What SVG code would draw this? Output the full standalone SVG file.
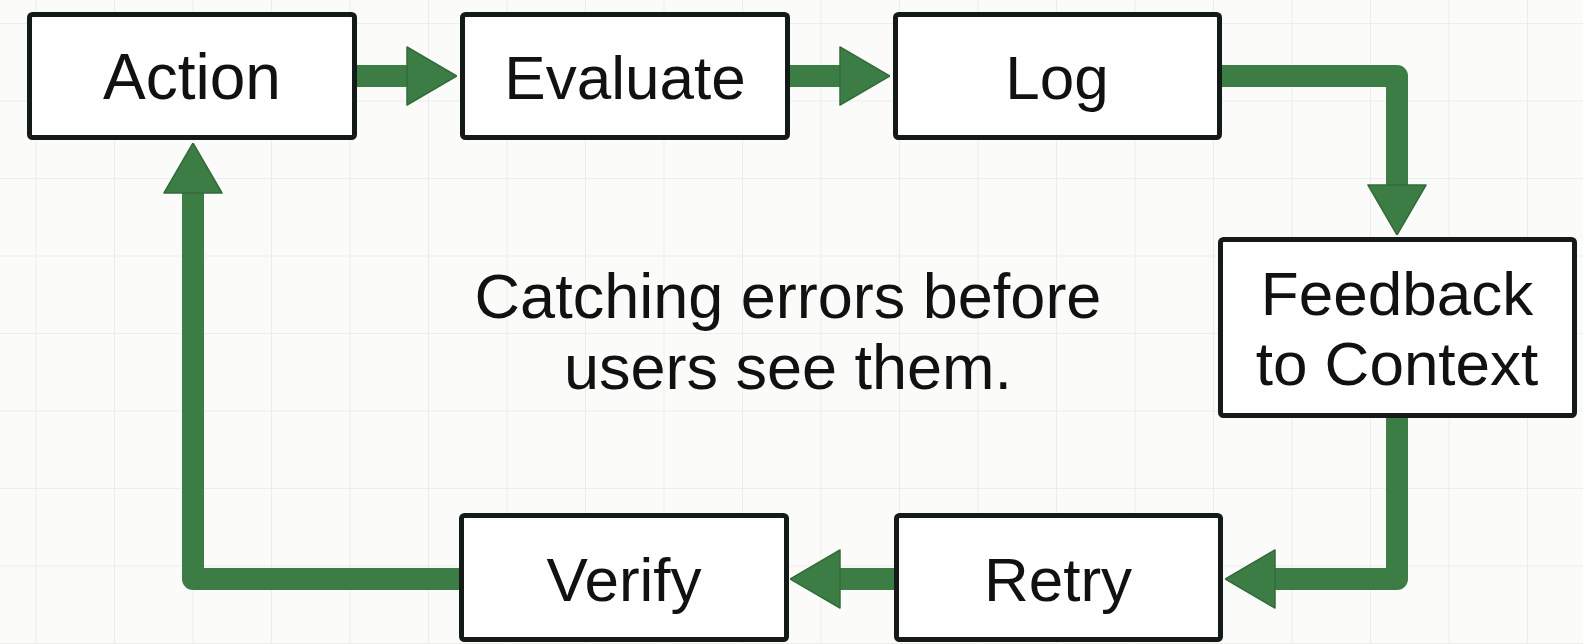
<svg xmlns="http://www.w3.org/2000/svg" width="1583" height="644" viewBox="0 0 1583 644">
  <defs>
    <pattern id="grid" patternUnits="userSpaceOnUse" x="35.5" y="23" width="78.5" height="77.5">
      <path d="M0,0 H78.5 M0,0 V77.5" fill="none" stroke="#e8eae6" stroke-width="1.6"/>
    </pattern>
    <marker id="head" markerUnits="userSpaceOnUse" viewBox="0 0 52 60" refX="2" refY="30" markerWidth="52" markerHeight="60" orient="auto">
      <path d="M2,1 L52,30 L2,59 Z" fill="#3c7d45" stroke="#336b3b" stroke-width="1.5" stroke-linejoin="round"/>
    </marker>
    <style>
      .box { fill: #fdfefd; stroke: #141a17; stroke-width: 5; }
      .lbl { font-family: "Liberation Sans", Arial, sans-serif; font-size: 62px; fill: #111; text-anchor: middle; }
      .cap { font-family: "Liberation Sans", Arial, sans-serif; font-size: 63px; fill: #111; text-anchor: middle; }
      .conn { fill: none; stroke: #3c7d45; stroke-width: 22; stroke-linejoin: round; marker-end: url(#head); }
    </style>
  </defs>
  <rect width="1583" height="644" fill="#fbfcfa"/>
  <rect width="1583" height="644" fill="url(#grid)"/>

  <g id="connectors">
    <path class="conn" d="M355,76 H407"/>
    <path class="conn" d="M788,76 H840"/>
    <path class="conn" d="M1220,76 H1397 V185"/>
    <path class="conn" d="M1397,416 V579 H1275"/>
    <path class="conn" d="M896,579 H840"/>
    <path class="conn" d="M461,579 H193 V193"/>
  </g>

  <g id="action">
    <rect class="box" x="29.5" y="14.5" width="325" height="123" rx="3"/>
    <text class="lbl" x="192" y="99" style="font-size:64px">Action</text>
  </g>
  <g id="evaluate">
    <rect class="box" x="462.5" y="14.5" width="325" height="123" rx="3"/>
    <text class="lbl" x="625" y="99">Evaluate</text>
  </g>
  <g id="log">
    <rect class="box" x="895.5" y="14.5" width="324" height="123" rx="3"/>
    <text class="lbl" x="1057" y="99">Log</text>
  </g>
  <g id="feedback">
    <rect class="box" x="1220.5" y="239.5" width="354" height="176" rx="3"/>
    <text class="lbl" x="1397" y="315">Feedback</text>
    <text class="lbl" x="1397" y="385">to Context</text>
  </g>
  <g id="retry">
    <rect class="box" x="896.5" y="515.5" width="324" height="124" rx="3"/>
    <text class="lbl" x="1058" y="601">Retry</text>
  </g>
  <g id="verify">
    <rect class="box" x="461.5" y="515.5" width="325" height="124" rx="3"/>
    <text class="lbl" x="624" y="601">Verify</text>
  </g>
  <g id="caption">
    <text class="cap" x="788" y="318">Catching errors before</text>
    <text class="cap" x="788" y="389">users see them.</text>
  </g>
</svg>
